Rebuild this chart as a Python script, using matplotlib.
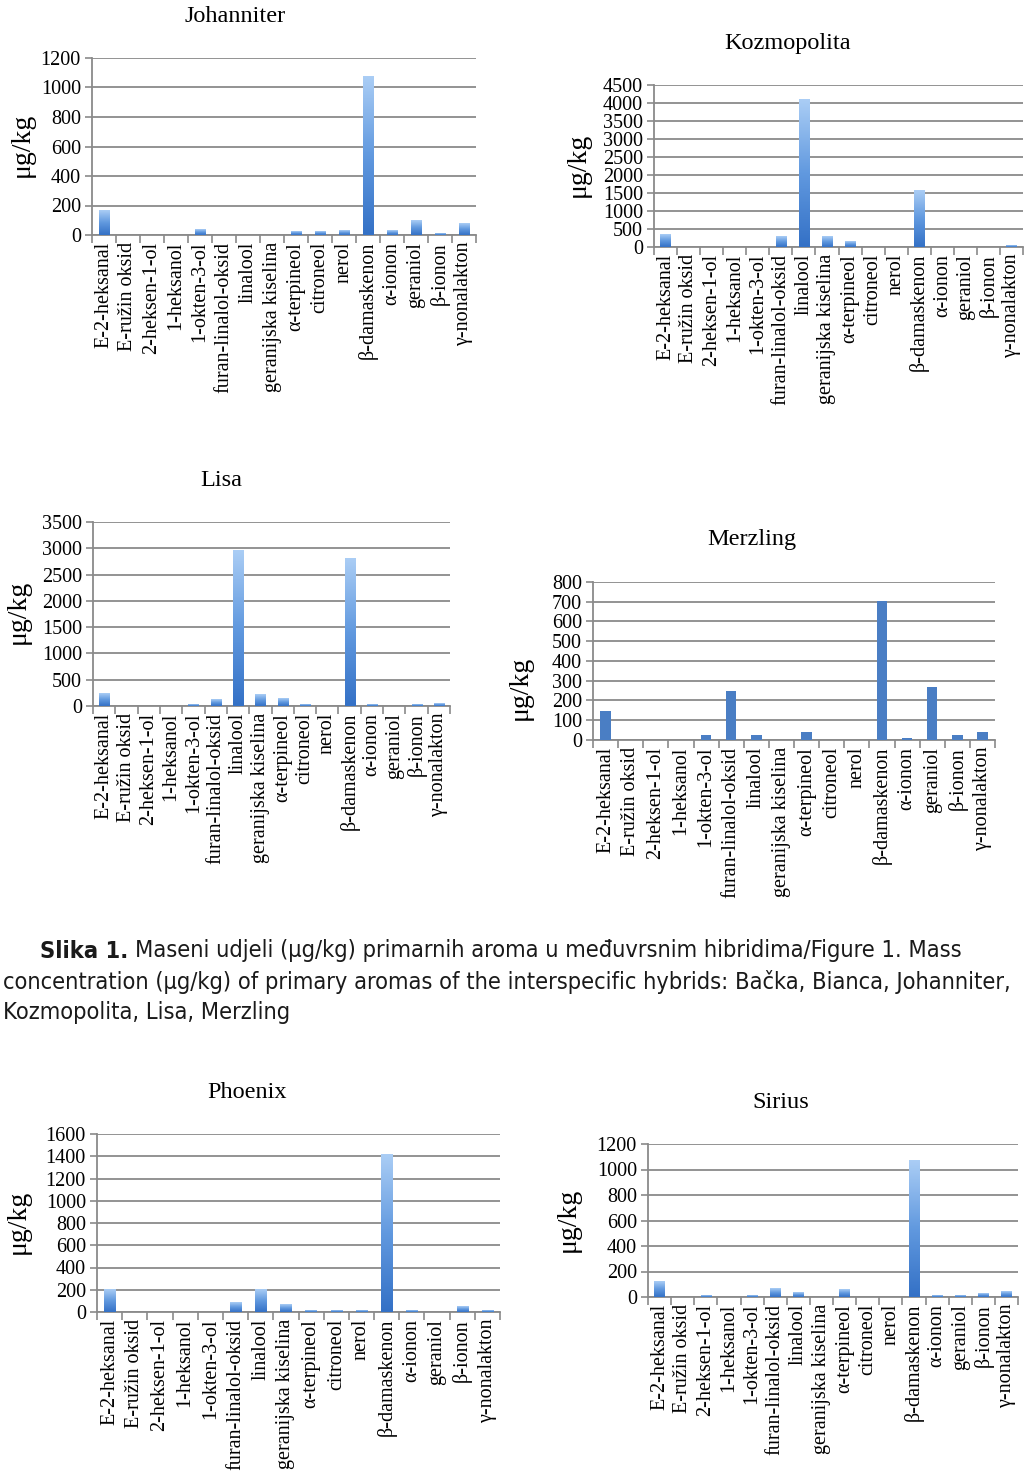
import numpy as np
import matplotlib
matplotlib.use("Agg")
import matplotlib.pyplot as plt
from matplotlib.colors import LinearSegmentedColormap
from matplotlib import font_manager as fm

W, H = 1031, 1472

categories = ["E-2-heksanal", "E-ružin oksid", "2-heksen-1-ol", "1-heksanol",
              "1-okten-3-ol", "furan-linalol-oksid", "linalool", "geranijska kiselina",
              "α-terpineol", "citroneol", "nerol", "β-damaskenon", "α-ionon",
              "geraniol", "β-ionon", "γ-nonalakton"]

johanniter = [165, 0, 0, 0, 40, 0, 0, 0, 22, 22, 30, 1075, 30, 100, 12, 75]
kozmopolita = [350, 0, 0, 0, 0, 290, 4100, 290, 150, 0, 0, 1580, 0, 0, 0, 50]
lisa = [230, 0, 0, 0, 25, 130, 2950, 210, 140, 25, 0, 2800, 25, 0, 25, 55]
merzling = [145, 0, 0, 0, 25, 250, 25, 0, 40, 0, 0, 705, 10, 270, 25, 40]
phoenix = [200, 0, 0, 0, 0, 85, 205, 70, 15, 15, 15, 1420, 15, 0, 45, 15]
sirius = [120, 0, 8, 0, 8, 65, 35, 0, 55, 0, 0, 1070, 10, 10, 25, 45]

names = ["Johanniter", "Kozmopolita", "Lisa", "Merzling", "Phoenix", "Sirius"]
ymax = [1200, 4500, 3500, 800, 1600, 1200]
ystep = [200, 500, 500, 100, 200, 200]

serif = "Liberation Serif"
avail = {f.name for f in fm.fontManager.ttflist}
cap_font = "Liberation Sans Narrow" if "Liberation Sans Narrow" in avail else "DejaVu Sans"
cap_stretch = "normal" if cap_font == "Liberation Sans Narrow" else "condensed"

fig = plt.figure(figsize=(W / 100, H / 100), dpi=100)
fig.patch.set_facecolor("white")

grad_cmap = LinearSegmentedColormap.from_list("g", ["#3471c6", "#6199df", "#aacdf5"])
grid_col = "#8a8a8a"


def rect(l, t, r, b):
    return [l / W, 1 - b / H, (r - l) / W, (b - t) / H]


def draw_chart(box, values, name, ym, step, title_xy, ylab_xy, gradient=True, bw=0.45):
    ax = fig.add_axes(rect(*box))
    x = np.arange(len(categories))
    color = "#4a7ec4" if not gradient else "none"
    bars = ax.bar(x, values, width=bw, color=color, zorder=3, linewidth=0)
    if gradient:
        g = np.linspace(1, 0, 100).reshape(-1, 1)
        for b in bars:
            h = b.get_height()
            if h <= 0:
                continue
            ax.imshow(g, cmap=grad_cmap, vmin=0, vmax=1, aspect="auto",
                      extent=(b.get_x(), b.get_x() + b.get_width(), 0, h),
                      zorder=3, interpolation="bilinear")
    ax.set_xlim(-0.5, len(categories) - 0.5)
    ax.set_ylim(0, ym)
    ax.set_yticks(np.arange(0, ym + 1, step))
    ax.set_yticklabels([str(v) for v in range(0, ym + 1, step)],
                       fontfamily=serif, fontsize=14.5)
    ax.set_xticks(x)
    ax.set_xticklabels(categories, rotation=90, fontfamily=serif, fontsize=14.5,
                       ha="center", va="top")
    ax.set_xticks(np.arange(-0.5, len(categories)), minor=True)
    ax.tick_params(axis="x", which="major", length=0, pad=5)
    ax.tick_params(axis="x", which="minor", length=6, width=1.2, color=grid_col)
    ax.tick_params(axis="y", length=5, width=1.2, color=grid_col, pad=3)
    ax.yaxis.grid(True, color=grid_col, linewidth=1.3)
    ax.set_axisbelow(True)
    for s in ["top", "right"]:
        ax.spines[s].set_visible(False)
    for s in ["left", "bottom"]:
        ax.spines[s].set_color(grid_col)
        ax.spines[s].set_linewidth(1.3)
    ax.set_facecolor("none")
    fig.text(title_xy[0] / W, 1 - title_xy[1] / H, name, fontfamily=serif,
             fontsize=17.5, ha="center", va="center")
    fig.text(ylab_xy[0] / W, 1 - ylab_xy[1] / H, "μg/kg", fontfamily=serif,
             fontsize=20, ha="center", va="center", rotation=90)
    return ax


draw_chart((92, 58, 476, 235), johanniter, names[0], ymax[0], ystep[0], (235, 16), (22, 145))
draw_chart((654, 85, 1023, 247), kozmopolita, names[1], ymax[1], ystep[1], (788, 44), (578, 165))
draw_chart((93, 522, 450, 706), lisa, names[2], ymax[2], ystep[2], (221, 480), (18, 612))
draw_chart((593, 582, 995, 740), merzling, names[3], ymax[3], ystep[3], (752, 540), (520, 688),
           gradient=False, bw=0.42)
draw_chart((97, 1134, 500, 1312), phoenix, names[4], ymax[4], ystep[4], (247, 1093), (18, 1222))
draw_chart((648, 1144, 1018, 1297), sirius, names[5], ymax[5], ystep[5], (781, 1103), (568, 1220))

# caption
ov = fig.add_axes([0, 0, 1, 1])
ov.set_axis_off()
ov.set_xlim(0, W)
ov.set_ylim(H, 0)
cap_kw = dict(fontfamily=cap_font, fontstretch=cap_stretch, fontsize=16.9, color="#1a1a1a")
bold = ov.text(40, 951, "Slika 1.", fontweight="bold", va="center", ha="left", **cap_kw)
ov.annotate("Maseni udjeli (μg/kg) primarnih aroma u međuvrsnim hibridima/Figure 1. Mass",
            xy=(1, 0.5), xycoords=bold, xytext=(5, 0), textcoords="offset points",
            va="center", ha="left", annotation_clip=False, **cap_kw)
ov.text(3, 982, "concentration (μg/kg) of primary aromas of the interspecific hybrids: "
        "Bačka, Bianca, Johanniter,", va="center", ha="left", **cap_kw)
ov.text(3, 1012, "Kozmopolita, Lisa, Merzling", va="center", ha="left", **cap_kw)

fig.savefig("out.png", dpi=100, facecolor="white")
